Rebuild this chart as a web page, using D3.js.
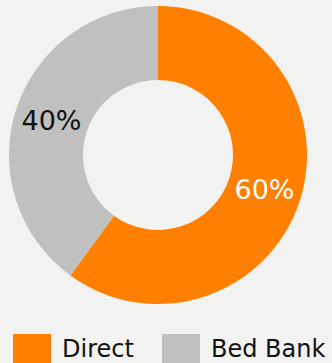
<!DOCTYPE html>
<html>
<head>
<meta charset="utf-8">
<script src="https://cdn.jsdelivr.net/npm/d3@7"></script>
<style>
  html, body { margin: 0; padding: 0; background: #f2f2f0; }
  svg { display: block; }
</style>
</head>
<body>
<svg id="chart" width="332" height="363"></svg>
<script>
// Booking channel split
const categories = ["Direct", "Bed Bank"];
const values = [60, 40];
const colors = ["#ff8000", "#c0c0c0"];
const labelColors = ["#ffffff", "#111111"];

const svg = d3.select("#chart");
const cx = 158, cy = 155;
const outerR = 149, innerR = 75;
const font = "'DejaVu Sans', sans-serif";

const pie = d3.pie().sort(null).value(d => d)(values);
const arc = d3.arc().innerRadius(innerR).outerRadius(outerR);

const g = svg.append("g").attr("transform", `translate(${cx},${cy})`);

g.selectAll("path.slice")
  .data(pie)
  .join("path")
  .attr("class", "slice")
  .attr("d", arc)
  .attr("fill", (d, i) => colors[i]);

g.selectAll("text.value")
  .data(pie)
  .join("text")
  .attr("class", "value")
  .attr("transform", d => `translate(${arc.centroid(d)})`)
  .attr("text-anchor", "middle")
  .attr("dominant-baseline", "central")
  .attr("font-family", font)
  .attr("font-size", 27)
  .attr("fill", (d, i) => labelColors[i])
  .text(d => d.data + "%");

// Legend
const legendX = [13, 162];
const legend = svg.append("g");
const items = legend.selectAll("g")
  .data(categories)
  .join("g")
  .attr("transform", (d, i) => `translate(${legendX[i]},334)`);

items.append("rect")
  .attr("width", 38)
  .attr("height", 38)
  .attr("fill", (d, i) => colors[i]);

items.append("text")
  .attr("x", 49)
  .attr("y", 23)
  .attr("font-family", font)
  .attr("font-size", 24)
  .attr("fill", "#111111")
  .text(d => d);
</script>
</body>
</html>
